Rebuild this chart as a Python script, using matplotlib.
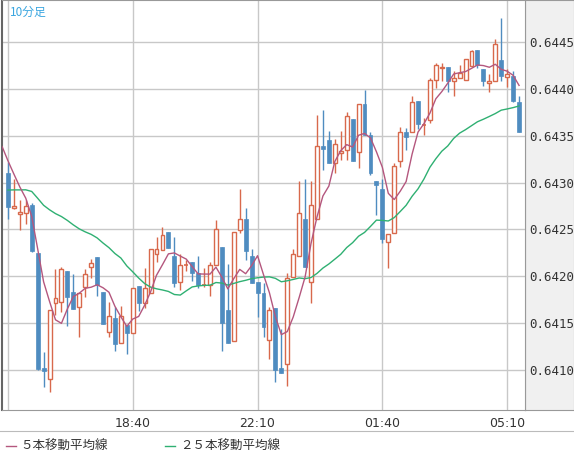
import matplotlib
matplotlib.use("Agg")
import matplotlib.pyplot as plt
import numpy as np
import pandas as pd
from matplotlib.patches import Rectangle
from matplotlib.lines import Line2D

prior_close = [0.64271,0.64269,0.64273,0.64271,0.64282,0.64287,0.64284,0.64279,0.64286,0.64282,
               0.64284,0.64288,0.64283,0.64281,0.64285,0.64286,0.64282,0.64284,0.64278,
               0.64351,0.64346,0.64338,0.64335,0.64324]

opens = [0.64310,0.64273,0.64267,0.64268,0.64276,0.64225,0.64102,0.64090,0.64172,0.64173,
         0.64206,0.64183,0.64167,0.64189,0.64210,0.64221,0.64183,0.64141,0.64156,0.64129,
         0.64148,0.64140,0.64190,0.64172,0.64182,0.64224,0.64228,0.64247,0.64222,0.64194,
         0.64212,0.64215,0.64204,0.64191,0.64191,0.64212,0.64231,0.64164,0.64131,0.64249,
         0.64261,0.64222,0.64194,0.64182,0.64132,0.64166,0.64102,0.64106,0.64199,0.64222,
         0.64261,0.64194,0.64261,0.64339,0.64346,0.64321,0.64332,0.64335,0.64368,0.64333,
         0.64384,0.64351,0.64302,0.64293,0.64237,0.64246,0.64323,0.64354,0.64354,0.64387,
         0.64362,0.64367,0.64410,0.64422,0.64424,0.64408,0.64412,0.64410,0.64425,0.64442,
         0.64421,0.64406,0.64408,0.64431,0.64413,0.64414,0.64386]
highs = [0.64322,0.64304,0.64282,0.64281,0.64278,0.64225,0.64119,0.64164,0.64208,0.64210,
         0.64206,0.64203,0.64182,0.64208,0.64218,0.64221,0.64183,0.64173,0.64167,0.64168,
         0.64148,0.64188,0.64190,0.64209,0.64229,0.64242,0.64253,0.64247,0.64242,0.64224,
         0.64217,0.64215,0.64222,0.64209,0.64215,0.64260,0.64231,0.64213,0.64247,0.64293,
         0.64273,0.64229,0.64194,0.64193,0.64167,0.64166,0.64144,0.64204,0.64229,0.64302,
         0.64304,0.64302,0.64372,0.64378,0.64355,0.64347,0.64355,0.64375,0.64368,0.64384,
         0.64399,0.64354,0.64302,0.64304,0.64245,0.64321,0.64359,0.64358,0.64393,0.64387,
         0.64369,0.64412,0.64428,0.64428,0.64424,0.64419,0.64426,0.64432,0.64442,0.64442,
         0.64421,0.64416,0.64453,0.64476,0.64421,0.64419,0.64392]
lows = [0.64261,0.64272,0.64249,0.64256,0.64226,0.64100,0.64082,0.64077,0.64159,0.64162,
        0.64147,0.64165,0.64135,0.64178,0.64198,0.64179,0.64149,0.64135,0.64120,0.64129,
        0.64117,0.64140,0.64163,0.64166,0.64182,0.64215,0.64228,0.64230,0.64189,0.64185,
        0.64206,0.64195,0.64188,0.64189,0.64179,0.64212,0.64120,0.64129,0.64131,0.64246,
        0.64217,0.64193,0.64157,0.64135,0.64112,0.64087,0.64097,0.64083,0.64199,0.64222,
        0.64210,0.64172,0.64261,0.64314,0.64321,0.64310,0.64324,0.64324,0.64323,0.64316,
        0.64351,0.64308,0.64265,0.64236,0.64209,0.64246,0.64317,0.64335,0.64354,0.64357,
        0.64351,0.64364,0.64401,0.64409,0.64397,0.64392,0.64412,0.64410,0.64425,0.64422,
        0.64403,0.64397,0.64408,0.64408,0.64402,0.64386,0.64354]
closes = [0.64274,0.64275,0.64269,0.64275,0.64227,0.64101,0.64099,0.64164,0.64177,0.64208,
          0.64178,0.64165,0.64182,0.64203,0.64214,0.64191,0.64149,0.64158,0.64128,0.64158,
          0.64140,0.64188,0.64172,0.64188,0.64229,0.64229,0.64244,0.64230,0.64193,0.64212,
          0.64213,0.64204,0.64191,0.64192,0.64212,0.64250,0.64150,0.64129,0.64247,0.64261,
          0.64227,0.64193,0.64182,0.64146,0.64164,0.64100,0.64097,0.64198,0.64224,0.64268,
          0.64210,0.64276,0.64339,0.64336,0.64321,0.64341,0.64334,0.64371,0.64323,0.64384,
          0.64351,0.64310,0.64297,0.64240,0.64245,0.64318,0.64354,0.64349,0.64386,0.64363,
          0.64363,0.64410,0.64426,0.64424,0.64408,0.64412,0.64417,0.64432,0.64441,0.64426,
          0.64409,0.64408,0.64448,0.64414,0.64416,0.64387,0.64354]

tick_pos = [21, 42, 63, 84]
tick_labels = ["18:40", "22:10", "01:40", "05:10"]
yticks = [0.6410, 0.6415, 0.6420, 0.6425, 0.6430, 0.6435, 0.6440, 0.6445]

RED = "#d8694c"; BLUE = "#4f8cc0"; PURPLE = "#b4577e"; GREEN = "#2fb072"

fig = plt.figure(figsize=(5.74, 4.62), dpi=100)
W, H = 574, 462
panel = fig.add_axes([525/W, 52/H, 49/W, 410/H])
panel.set_facecolor("#f0f0f0")
panel.set_xticks([]); panel.set_yticks([])
for s in panel.spines.values():
    s.set_color("#999999")
panel.set_zorder(0)

ax = fig.add_axes([2/W, 52/H, 523/W, 410/H])
ax.set_zorder(2)
ax.set_xlim(-1.0, 87.0)
ax.set_ylim(0.640573, 0.64495)
for v in yticks:
    ax.axhline(v, color="#c8c8c8", lw=1, zorder=0)
for v in [0] + tick_pos:
    ax.axvline(v, color="#c8c8c8", lw=1, zorder=0)

n = len(opens)
idx = np.arange(n)
bw = 0.66
for i in idx:
    o, h, l, c = opens[i], highs[i], lows[i], closes[i]
    up = c >= o
    col = RED if up else BLUE
    ax.vlines(i, l, h, color=col, lw=1, zorder=2)
    lo, hi = min(o, c), max(o, c)
    if hi - lo < 0.000012:
        ax.hlines(lo, i - bw/2, i + bw/2, color=col, lw=1.2, zorder=3)
    elif up:
        ax.add_patch(Rectangle((i - bw/2, lo), bw, hi - lo, facecolor="white", edgecolor=col, lw=1, zorder=3))
    else:
        ax.add_patch(Rectangle((i - bw/2, lo), bw, hi - lo, facecolor=col, edgecolor=col, lw=0.5, zorder=3))

allc = pd.Series(prior_close + closes)
xall = np.arange(-len(prior_close), n)
ma5 = allc.rolling(5).mean()
ma25 = allc.rolling(25).mean()
ax.plot(xall, ma25, color=GREEN, lw=1, zorder=4)
ax.plot(xall, ma5, color=PURPLE, lw=1, zorder=4)

ax.yaxis.tick_right()
ax.set_yticks(yticks)
ax.set_yticklabels([f"{v:.4f}" for v in yticks], family="DejaVu Sans Mono", fontsize=9, color="#333333")
ax.tick_params(axis="y", length=0, pad=3)
ax.set_xticks(tick_pos)
ax.set_xticklabels(tick_labels, fontsize=9, color="#333333")
ax.tick_params(axis="x", length=0, pad=5)
for s in ax.spines.values():
    s.set_color("#999999")
ax.spines["left"].set_color("#666666"); ax.spines["left"].set_linewidth(1.5)

fig.text(10/W, 1 - 12/H, "10分足", fontsize=8.5, color="#3aa6e0", family=["Noto Sans CJK JP", "DejaVu Sans"], va="center")
fig.lines.append(Line2D([0, 1], [1 - 431/H, 1 - 431/H], transform=fig.transFigure, color="#bbbbbb", lw=0.8))
yl = 1 - 446/H
fig.lines.append(Line2D([6/W, 16/W], [yl, yl], transform=fig.transFigure, color=PURPLE, lw=1))
fig.text(20/W, yl, "５本移動平均線", fontsize=9, color="#333333", family=["Noto Sans CJK JP", "DejaVu Sans"], va="center")
fig.lines.append(Line2D([165/W, 175/W], [yl, yl], transform=fig.transFigure, color=GREEN, lw=1))
fig.text(180/W, yl, "２５本移動平均線", fontsize=9, color="#333333", family=["Noto Sans CJK JP", "DejaVu Sans"], va="center")

fig.savefig("out.png", dpi=100, facecolor="white")
